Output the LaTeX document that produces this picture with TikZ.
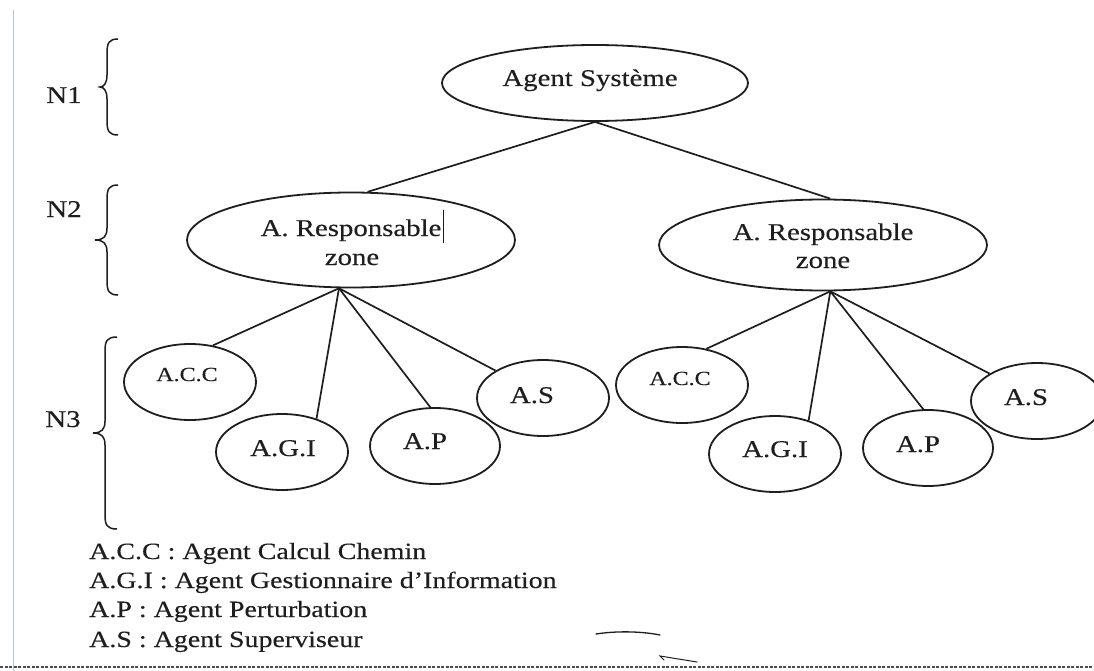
\documentclass[tikz,border=0pt]{standalone}
\usepackage{fontspec}
\setmainfont{Liberation Serif}[FakeStretch=1.2, FakeBold=0.3]
\usetikzlibrary{shapes.geometric}
\definecolor{ink}{HTML}{1E1E1E}
\definecolor{edge}{HTML}{B8C0CC}
\begin{document}
\begin{tikzpicture}[x=1pt,y=-1pt,
  oval/.style={ellipse, draw=ink, line width=1.8pt, inner sep=0pt},
  lbl/.style={anchor=base, inner sep=0pt, text=ink, font=\fontsize{24}{28}\selectfont},
  smalllbl/.style={lbl, font=\fontsize{20}{24}\selectfont},
  legend/.style={anchor=base west, inner sep=0pt, text=ink, font=\fontsize{23.3}{27}\selectfont},
  link/.style={draw=ink, line width=1.7pt},
  brace/.style={draw=ink, line width=1.5pt}]

\useasboundingbox (0,0) rectangle (1094,671);
\clip (0,0) rectangle (1094,671);
\fill[white] (0,0) rectangle (1094,671);

% page margin line and bottom edge of the sheet
\draw[edge, line width=1pt] (13,10) -- (13,671);
\draw[ink!80, line width=2.2pt, dash pattern=on 3pt off 1.5pt] (0,667) -- (1094,667);

% level braces
\foreach \ya/\yb/\xt/\xs/\xe in {39/135/100/107/118, 185/295/95/107/118, 337/529/93/105/117} {
  \pgfmathsetmacro\ym{(\ya+\yb)/2}
  \draw[brace] (\xe,\ya) .. controls (\xs+2,\ya) and (\xs,\ya+4) .. (\xs,\ya+14)
    -- (\xs,\ym-12) .. controls (\xs,\ym-4) and (\xs-3,\ym) .. (\xt,\ym)
    .. controls (\xs-3,\ym) and (\xs,\ym+4) .. (\xs,\ym+12)
    -- (\xs,\yb-14) .. controls (\xs,\yb-4) and (\xs+2,\yb) .. (\xe,\yb);
}
\node[lbl] (n1) at (64,103) {N1};
\node[lbl] (n2) at (64,217) {N2};
\node[lbl] (n3) at (63,427) {N3};

% level 1
\node[oval, minimum width=306pt, minimum height=76pt] (sys) at (595,83) {};
\node[lbl] (tsys) at (590,86) {Agent Système};

% level 2
\node[oval, minimum width=328pt, minimum height=95pt] (zl) at (351,240) {};
\node[oval, minimum width=328pt, minimum height=91pt] (zr) at (823,245) {};
\node[lbl] (tzl1) at (351,236) {A. Responsable};
\node[lbl] (tzl2) at (352,265) {zone};
\node[lbl] (tzr1) at (823,240) {A. Responsable};
\node[lbl] (tzr2) at (823,268) {zone};
\draw[ink, line width=0.8pt] (443,210) -- (443,243);

% level 3, left zone
\node[oval, minimum width=132pt, minimum height=76pt] (acc1) at (190,382) {};
\node[oval, minimum width=132pt, minimum height=76pt] (agi1) at (282,452) {};
\node[oval, minimum width=130pt, minimum height=76pt] (ap1)  at (435,446) {};
\node[oval, minimum width=132pt, minimum height=76pt] (as1)  at (543,398) {};
\node[smalllbl] (tacc1) at (187,381) {A.C.C};
\node[lbl] (tagi1) at (283,456) {A.G.I};
\node[lbl] (tap1)  at (425,449) {A.P};
\node[lbl] (tas1)  at (532,403) {A.S};

% level 3, right zone
\node[oval, minimum width=132pt, minimum height=76pt] (acc2) at (682,385) {};
\node[oval, minimum width=132pt, minimum height=76pt] (agi2) at (775,454) {};
\node[oval, minimum width=130pt, minimum height=76pt] (ap2)  at (928,448) {};
\node[oval, minimum width=132pt, minimum height=76pt] (as2)  at (1037,401) {};
\node[smalllbl] (tacc2) at (680,385) {A.C.C};
\node[lbl] (tagi2) at (775,457) {A.G.I};
\node[lbl] (tap2)  at (918,452) {A.P};
\node[lbl] (tas2)  at (1026,405) {A.S};

% hierarchy links
\draw[link] (sys.south) -- (zl.71);
\draw[link] (sys.south) -- (zr.81);
\draw[link] (zl.256) -- (acc1.58);
\draw[link] (zl.256) -- (agi1.44);
\draw[link] (zl.256) -- (ap1.97);
\draw[link] (zl.256) -- (as1.150);
\draw[link] (zr.279) -- (acc2.56);
\draw[link] (zr.279) -- (agi2.45);
\draw[link] (zr.279) -- (ap2.97);
\draw[link] (zr.279) -- (as2.150);

% legend
\node[legend] (k1) at (89,559) {A.C.C : Agent Calcul Chemin};
\node[legend] (k2) at (89,588) {A.G.I : Agent Gestionnaire d’Information};
\node[legend] (k3) at (89,617) {A.P : Agent Perturbation};
\node[legend] (k4) at (89,647) {A.S : Agent Superviseur};

% pen strokes
\draw[ink, line width=1.3pt, line cap=round] (596,634) .. controls (615,631) and (640,631) .. (660,635);
\draw[ink, line width=1pt, line cap=round] (697,662) -- (660,656) -- (664,660);
\end{tikzpicture}
\end{document}
